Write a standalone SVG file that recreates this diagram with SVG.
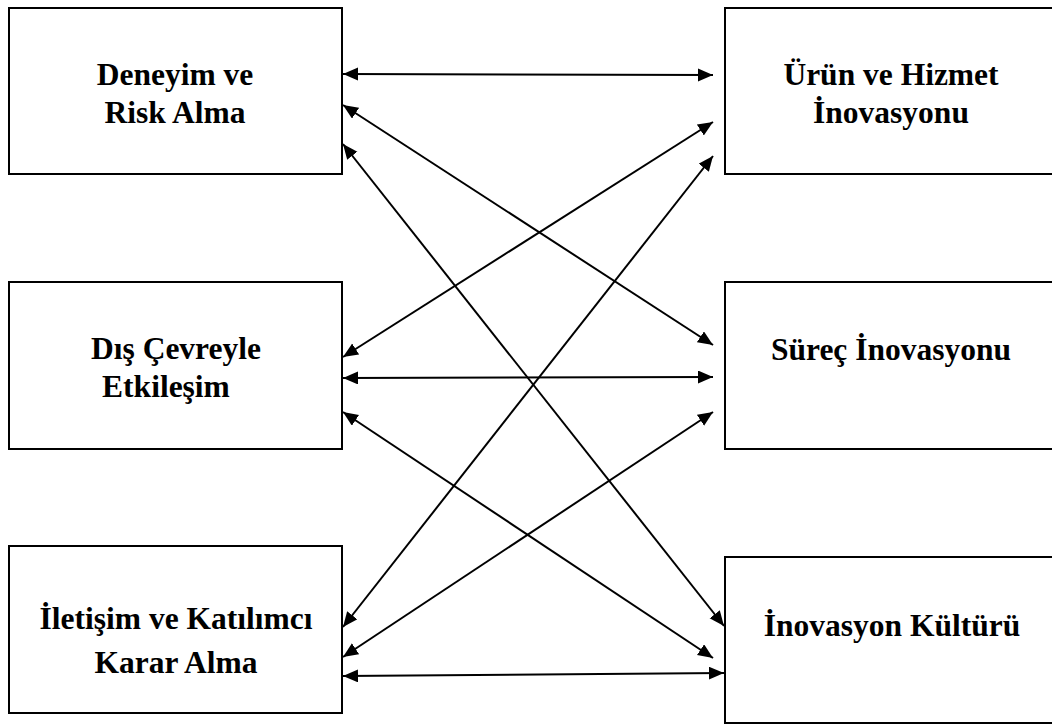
<svg xmlns="http://www.w3.org/2000/svg" width="1052" height="725" viewBox="0 0 1052 725">
  <style>
    .box { fill: #ffffff; stroke: #000000; stroke-width: 2; }
    .lbl { font-family: "Liberation Serif", "Times New Roman", serif; font-weight: bold; font-size: 31.5px; fill: #000000; text-anchor: middle; }
    .link { stroke: #000000; stroke-width: 2; fill: none; marker-start: url(#head); marker-end: url(#head); }
  </style>
  <defs>
    <marker id="head" markerUnits="userSpaceOnUse" markerWidth="16" markerHeight="14" refX="15" refY="6.5" orient="auto-start-reverse">
      <path d="M0,0 L15,6.5 L0,13 Z" fill="#000000"/>
    </marker>
  </defs>
  <rect width="1052" height="725" fill="#ffffff"/>

  <!-- left column -->
  <g id="deneyim">
    <rect class="box" x="9" y="8" width="333" height="166"/>
    <text class="lbl" x="175" y="85">Deneyim ve</text>
    <text class="lbl" x="175" y="123">Risk Alma</text>
  </g>
  <g id="dis-cevre">
    <rect class="box" x="9" y="282" width="333" height="167"/>
    <text class="lbl" x="176" y="359">Dış Çevreyle</text>
    <text class="lbl" x="166" y="397">Etkileşim</text>
  </g>
  <g id="iletisim">
    <rect class="box" x="9" y="546" width="333" height="167"/>
    <text class="lbl" x="176" y="629">İletişim ve Katılımcı</text>
    <text class="lbl" x="176" y="673">Karar Alma</text>
  </g>

  <!-- right column -->
  <g id="urun-hizmet">
    <rect class="box" x="725" y="8" width="340" height="166"/>
    <text class="lbl" x="891" y="85">Ürün ve Hizmet</text>
    <text class="lbl" x="891" y="123">İnovasyonu</text>
  </g>
  <g id="surec">
    <rect class="box" x="725" y="282" width="340" height="167"/>
    <text class="lbl" x="891" y="360">Süreç İnovasyonu</text>
  </g>
  <g id="kultur">
    <rect class="box" x="725" y="557" width="340" height="166"/>
    <text class="lbl" x="892" y="636">İnovasyon Kültürü</text>
  </g>

  <!-- two-way connectors -->
  <g id="connectors">
    <line class="link" x1="343" y1="74" x2="713" y2="75"/>
    <line class="link" x1="343" y1="105" x2="713" y2="345"/>
    <line class="link" x1="343" y1="144" x2="724" y2="626"/>
    <line class="link" x1="343" y1="357" x2="713" y2="122"/>
    <line class="link" x1="343" y1="378" x2="713" y2="377"/>
    <line class="link" x1="343" y1="412" x2="713" y2="658"/>
    <line class="link" x1="343" y1="627" x2="713" y2="156"/>
    <line class="link" x1="343" y1="657" x2="713" y2="412"/>
    <line class="link" x1="343" y1="676" x2="724" y2="673"/>
  </g>
</svg>
